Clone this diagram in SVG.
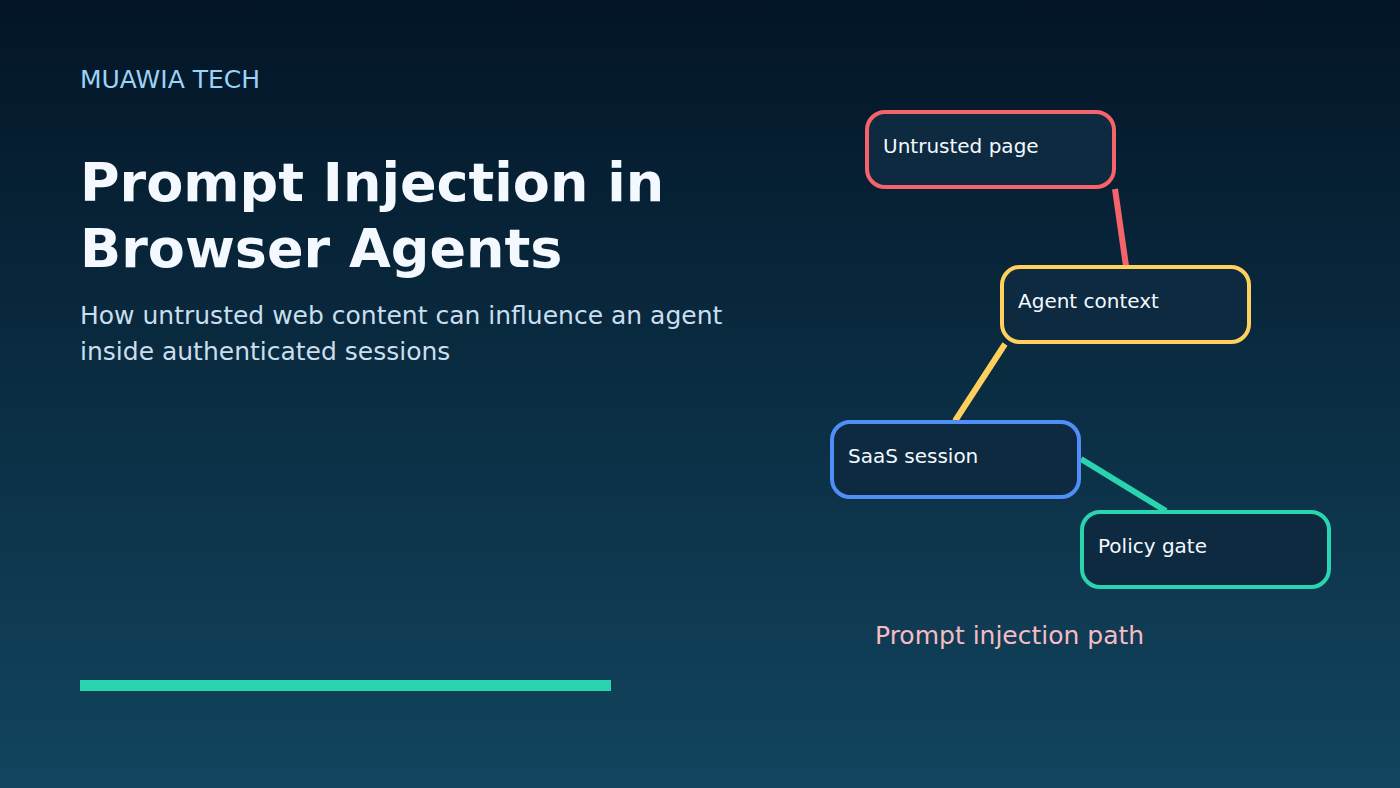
<svg xmlns="http://www.w3.org/2000/svg" width="1400" height="788" viewBox="0 0 1400 788">
<defs><linearGradient id="bg" x1="0" y1="0" x2="0" y2="1"><stop offset="0" stop-color="#031526"/><stop offset="1" stop-color="#12455f"/></linearGradient></defs>
<style>
text{font-family:"DejaVu Sans",sans-serif}
.n{fill:#0d2a40;stroke-width:4}
.l{fill:#f4f9ff;font-size:20px}
.c{fill:none;stroke-width:6}
.t{font-size:54px;font-weight:700;fill:#f4f8ff}
.s{font-size:25px;fill:#c9dfee}
</style>
<rect width="1400" height="788" fill="url(#bg)"/>
<text x="80" y="88" font-size="25" fill="#9bd3f5">MUAWIA TECH</text>
<text class="t" x="80" y="200.5">Prompt Injection in</text>
<text class="t" x="80" y="267">Browser Agents</text>
<text class="s" x="80" y="324">How untrusted web content can influence an agent</text>
<text class="s" x="80" y="360">inside authenticated sessions</text>
<rect x="80" y="680" width="531" height="11" fill="#2ad4ae"/>
<g id="connectors">
<line class="c" x1="1115" y1="189" x2="1126" y2="266" stroke="#f7636a"/>
<line class="c" x1="1005" y1="344" x2="955" y2="421" stroke="#ffd05c"/>
<line class="c" x1="1081" y1="459" x2="1166" y2="511" stroke="#2ad4ae"/>
</g>
<g id="node-untrusted"><rect class="n" x="867" y="112" width="247" height="75" rx="18" stroke="#f7636a"/><text class="l" x="883" y="153">Untrusted page</text></g>
<g id="node-agent"><rect class="n" x="1002" y="267" width="247" height="75" rx="18" stroke="#ffd05c"/><text class="l" x="1018" y="308">Agent context</text></g>
<g id="node-saas"><rect class="n" x="832" y="422" width="247" height="75" rx="18" stroke="#4f8ff7"/><text class="l" x="848" y="463">SaaS session</text></g>
<g id="node-policy"><rect class="n" x="1082" y="512" width="247" height="75" rx="18" stroke="#2ad4ae"/><text class="l" x="1098" y="553">Policy gate</text></g>
<text x="875" y="644" font-size="25" fill="#f5bcc4">Prompt injection path</text>
</svg>
